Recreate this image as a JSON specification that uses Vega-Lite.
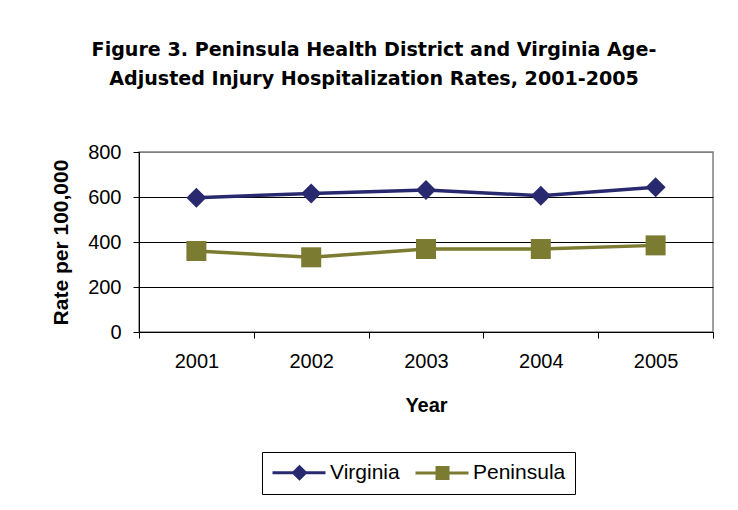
{
  "$schema": "https://vega.github.io/schema/vega-lite/v6.json",
  "width": 574,
  "height": 180,
  "autosize": {"type": "none"},
  "padding": {"left": 139, "top": 152, "right": 25, "bottom": 178},
  "background": "white",
  "config": {
    "font": "Liberation Sans",
    "view": {"stroke": "#808080", "strokeWidth": 1.5}
  },
  "title": {
    "text": ["Figure 3. Peninsula Health District and Virginia Age-", "Adjusted Injury Hospitalization Rates, 2001-2005"],
    "font": "DejaVu Sans",
    "fontSize": 19.1,
    "fontWeight": "bold",
    "color": "black",
    "anchor": "middle",
    "frame": "group",
    "dx": -52,
    "offset": 53,
    "lineHeight": 29
  },
  "data": {
    "values": [
      {"year": "2001", "series": "Virginia", "rate": 597},
      {"year": "2002", "series": "Virginia", "rate": 616},
      {"year": "2003", "series": "Virginia", "rate": 631},
      {"year": "2004", "series": "Virginia", "rate": 606},
      {"year": "2005", "series": "Virginia", "rate": 643},
      {"year": "2001", "series": "Peninsula", "rate": 360},
      {"year": "2002", "series": "Peninsula", "rate": 332},
      {"year": "2003", "series": "Peninsula", "rate": 369},
      {"year": "2004", "series": "Peninsula", "rate": 369},
      {"year": "2005", "series": "Peninsula", "rate": 385}
    ]
  },
  "encoding": {
    "x": {
      "field": "year",
      "type": "ordinal",
      "scale": {"type": "band", "paddingInner": 0, "paddingOuter": 0},
      "axis": {
        "title": "Year",
        "tickBand": "extent",
        "labelAngle": 0,
        "labelFontSize": 20,
        "labelColor": "black",
        "labelPadding": 13,
        "tickSize": 6,
        "tickColor": "black",
        "domainColor": "black",
        "titleFontSize": 20,
        "titleFontWeight": "bold",
        "titleColor": "black",
        "titlePadding": 24,
        "grid": false
      }
    },
    "y": {
      "field": "rate",
      "type": "quantitative",
      "scale": {"domain": [0, 800]},
      "axis": {
        "title": "Rate per 100,000",
        "values": [0, 200, 400, 600, 800],
        "labelFontSize": 20,
        "labelColor": "black",
        "labelPadding": 12,
        "tickSize": 6,
        "tickColor": "black",
        "domainColor": "black",
        "grid": true,
        "gridColor": {"condition": {"test": "datum.value === 800", "value": "#808080"}, "value": "black"},
        "gridOpacity": 1,
        "titleFontSize": 21,
        "titleFontWeight": "bold",
        "titleColor": "black",
        "titlePadding": 16
      }
    },
    "color": {
      "field": "series",
      "type": "nominal",
      "scale": {"domain": ["Virginia", "Peninsula"], "range": ["#29296f", "#7b7b31"]}
    }
  },
  "layer": [
    {
      "mark": {"type": "line", "strokeWidth": 3.5},
      "encoding": {
        "color": {
          "field": "series",
          "type": "nominal",
          "scale": {"domain": ["Virginia", "Peninsula"], "range": ["#29296f", "#7b7b31"]},
          "legend": {
            "title": null,
            "orient": "none",
            "legendX": 123,
            "legendY": 300,
            "direction": "horizontal",
            "columns": 2,
            "strokeColor": "black",
            "fillColor": "white",
            "padding": 9,
            "labelFontSize": 21,
            "labelColor": "black",
            "labelOffset": 36,
            "columnPadding": 9,
            "symbolSize": 400,
            "symbolStrokeWidth": 3,
            "encode": {
              "symbols": {
                "update": {
                  "shape": {"signal": "datum.value === 'Virginia' ? 'M-1,0H4.3M1.1,0L1.7,-0.6L2.3,0L1.7,0.6Z' : 'M-1,0H4.3M1.15,-0.55H2.25V0.55H1.15Z'"},
                  "fill": {"scale": "color", "field": "value"},
                  "stroke": {"scale": "color", "field": "value"},
                  "strokeWidth": {"value": 3},
                  "opacity": {"value": 1}
                }
              }
            }
          }
        }
      }
    },
    {
      "transform": [{"filter": "datum.series === 'Virginia'"}],
      "mark": {"type": "point", "shape": "diamond", "filled": true, "opacity": 1, "size": 400}
    },
    {
      "transform": [{"filter": "datum.series === 'Peninsula'"}],
      "mark": {"type": "point", "shape": "square", "filled": true, "opacity": 1, "size": 400}
    }
  ]
}
